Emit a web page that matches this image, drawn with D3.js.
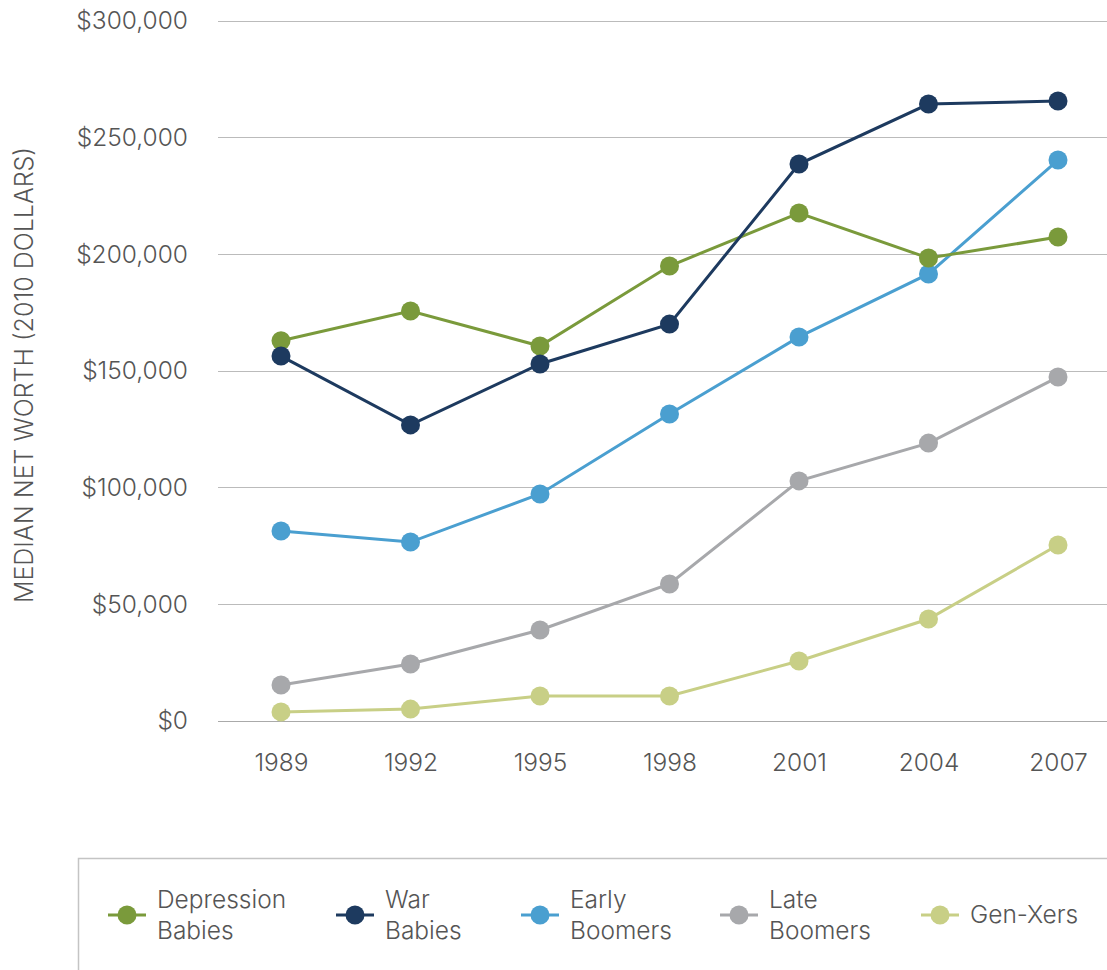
<!DOCTYPE html>
<html><head><meta charset="utf-8">
<script src="https://cdn.jsdelivr.net/npm/d3@7"></script>
<style>
body{margin:0;background:#fff;}
text{font-family:"Inter","Liberation Sans",sans-serif;font-weight:300;fill:#555;}
</style></head>
<body><svg id="c" width="1107" height="970"></svg>
<script>
const years = ["1989","1992","1995","1998","2001","2004","2007"];
const seriesNames = ["Depression Babies","War Babies","Early Boomers","Late Boomers","Gen-Xers"];
const legendLines = [["Depression","Babies"],["War","Babies"],["Early","Boomers"],["Late","Boomers"],["Gen-Xers"]];
const colors = ["#7a9a3b","#1d3a5f","#4a9fd0","#a7a8ab","#c8cf86"];
const depressionBabies = [163000,175700,160700,195000,217700,198400,207400];
const warBabies = [156400,126900,153000,170100,238700,264400,265700];
const earlyBoomers = [81400,76700,97300,131600,164600,191600,240400];
const lateBoomers = [15400,24400,39000,58700,102900,119100,147400];
const genXers = [3900,5100,10700,10700,25700,43700,75400];
const yTicks = [0,50000,100000,150000,200000,250000,300000];
const allSeries = [depressionBabies,warBabies,earlyBoomers,lateBoomers,genXers];

const svg = d3.select("#c");
const x = d3.scalePoint().domain(years).range([281,1058]);
const y = d3.scaleLinear().domain([0,300000]).range([721,21]);
const fmt = v => "$" + d3.format(",")(v);

const yAxis = d3.axisLeft(y).tickValues(yTicks).tickFormat(fmt).tickSize(0).tickPadding(30);
const gy = svg.append("g").attr("transform","translate(218,0)").call(yAxis);
gy.select(".domain").remove();
gy.selectAll("text").style("font-size","24.5px").attr("fill","#555");
svg.append("g").selectAll("line").data(yTicks).join("line")
  .attr("x1",218).attr("x2",1107).attr("y1",d=>y(d)).attr("y2",d=>y(d))
  .attr("stroke",d=>d===0?"#aaa":"#bbb").attr("stroke-width",1).attr("shape-rendering","crispEdges");

const xAxis = d3.axisBottom(x).tickSize(0).tickPadding(33);
const gx = svg.append("g").attr("transform","translate(0,721)").call(xAxis);
gx.select(".domain").remove();
gx.selectAll("text").style("font-size","24.5px").attr("fill","#555");

svg.append("text").attr("transform","translate(33,375) rotate(-90)")
  .attr("text-anchor","middle").style("font-size","25px").text("MEDIAN NET WORTH (2010 DOLLARS)");

const line = d3.line().x((d,i)=>x(years[i])).y(d=>y(d));
const order = [4,3,2,0,1];
order.forEach(k=>{
  const g = svg.append("g");
  g.append("path").datum(allSeries[k]).attr("d",line).attr("fill","none")
    .attr("stroke",colors[k]).attr("stroke-width",3);
  g.selectAll("circle").data(allSeries[k]).join("circle")
    .attr("cx",(d,i)=>x(years[i])).attr("cy",d=>y(d)).attr("r",9.5).attr("fill",colors[k]);
});

svg.append("path").attr("d","M78.5,970 V858.5 H1107").attr("fill","none").attr("stroke","#c4c4c4").attr("stroke-width",1.5);
const legendCx = [127,355,540,739,940];
seriesNames.forEach((n,k)=>{
  const g = svg.append("g").attr("transform",`translate(${legendCx[k]},915)`);
  g.append("line").attr("x1",-19).attr("x2",19).attr("y1",0).attr("y2",0).attr("stroke",colors[k]).attr("stroke-width",3);
  g.append("circle").attr("cx",0).attr("cy",0).attr("r",9.5).attr("fill",colors[k]);
  const lines = legendLines[k];
  const t = g.append("text").style("font-size","24.5px");
  if(lines.length===1){
    t.append("tspan").attr("x",30).attr("y",8).text(lines[0]);
  } else {
    t.append("tspan").attr("x",30).attr("y",-7).text(lines[0]);
    t.append("tspan").attr("x",30).attr("y",24).text(lines[1]);
  }
});
</script></body></html>
